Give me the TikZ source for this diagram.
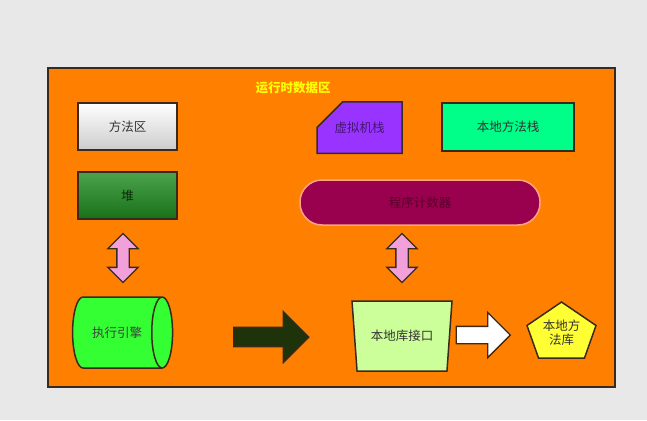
\documentclass[tikz,border=0pt]{standalone}
\usepackage{fontspec}
\setmainfont{Noto Sans CJK SC}
\usetikzlibrary{shapes.geometric,shapes.misc,shapes.arrows}

\definecolor{pagebg}{HTML}{E8E8E8}
\definecolor{areabg}{HTML}{FF8000}
\definecolor{edge}{HTML}{3A2A1E}
\definecolor{titlecol}{HTML}{FFFF00}
\definecolor{heapgreen}{HTML}{1E8C1E}
\definecolor{vmpurple}{HTML}{9933FF}
\definecolor{nativegreen}{HTML}{00FF88}
\definecolor{pcred}{HTML}{99004D}
\definecolor{pcedge}{HTML}{FFA585}
\definecolor{pinkarr}{HTML}{F2A0DA}
\definecolor{enggreen}{HTML}{33FF33}
\definecolor{darkarr}{HTML}{1F330A}
\definecolor{libgreen}{HTML}{CCFF99}
\definecolor{libyellow}{HTML}{FFFF33}

\begin{document}
\begin{tikzpicture}[
        x=1pt, y=-1pt,
        font=\fontsize{12.5}{15}\selectfont,
        box/.style={draw=edge, line width=1.5pt, inner sep=0pt,
            minimum width=99pt, minimum height=47pt},
        updown/.style={double arrow, draw=edge, line width=1.3pt, fill=pinkarr,
            shape border rotate=90, double arrow head extend=9pt,
            minimum height=49pt, minimum width=29pt, inner sep=5.5pt},
        bigarrow/.style={single arrow, draw=edge, line width=1.3pt,
            single arrow head extend=16pt}
    ]

%%
% page and the runtime data area frame
    \fill[pagebg] (0,0) rectangle (647,420);
    \draw[edge, fill=areabg, line width=1.5pt] (48,68) rectangle (615,387);
    \node (title) at (293,88) [text=titlecol, font=\fontsize{12.5}{15}\selectfont\bfseries] {运行时数据区};

%%
% thread shared and thread private areas
    \node (method) at (127.5,126.5) [box, top color=white, bottom color=black!20, text=black!80] {方法区};
    \node (heap)   at (127.5,195.5) [box, top color=heapgreen!80!white, bottom color=heapgreen!80!black, text=heapgreen!30!black] {堆};
    \node (vmstack) at (359.5,127.5) [box, chamfered rectangle, chamfered rectangle corners=north west,
        chamfered rectangle xsep=20pt, chamfered rectangle ysep=20pt,
        minimum width=85pt, minimum height=49pt, fill=vmpurple, text=vmpurple!45!black] {虚拟机栈};
    \node (nstack) at (508,127) [box, minimum width=132pt, minimum height=48pt, fill=nativegreen, text=black!80] {本地方法栈};
    \node (pc) at (420,202.5) [draw=pcedge, line width=1.5pt, fill=pcred, rounded corners=22pt,
        minimum width=240pt, minimum height=45pt, text=pcred!60!black] {程序计数器};

%%
% exchange with the execution engine and the native interface
    \node (upl) at (123,258) [updown] {};
    \node (upr) at (402,258) [updown] {};

%%
% execution engine -> native library interface -> native library
    \node (engine) at (117,332.5) [cylinder, draw=edge, line width=1.5pt, fill=enggreen,
        cylinder uses custom fill, cylinder body fill=enggreen, cylinder end fill=enggreen,
        aspect=1.8, minimum width=71pt, minimum height=100pt, inner sep=0pt, text=black!75] {执行引擎};
    \node (go) at (266.5,337) [bigarrow, fill=darkarr, minimum height=75pt, minimum width=50pt,
        inner sep=9pt, single arrow head extend=16pt] {};
    \node (jni) at (402,336) [trapezium, shape border rotate=180, trapezium stretches=true,
        trapezium left angle=78, trapezium right angle=78, draw=edge, line width=1.5pt,
        fill=libgreen, minimum width=100pt, minimum height=70pt, text=black!80] {本地库接口};
    \node (call) at (479,335) [bigarrow, fill=white, minimum height=54pt, minimum width=44pt,
        inner sep=8pt, single arrow head extend=14pt] {};
    \draw[edge, fill=libyellow, line width=1.5pt]
        (561.5,302) -- (596,325.5) -- (584.5,358) -- (538.5,358) -- (527,325.5) -- cycle;
    \node (nlib) at (561.5,333) [align=center, text=black!80, font=\fontsize{12.5}{14}\selectfont] {本地方\\法库};

\end{tikzpicture}
\end{document}
